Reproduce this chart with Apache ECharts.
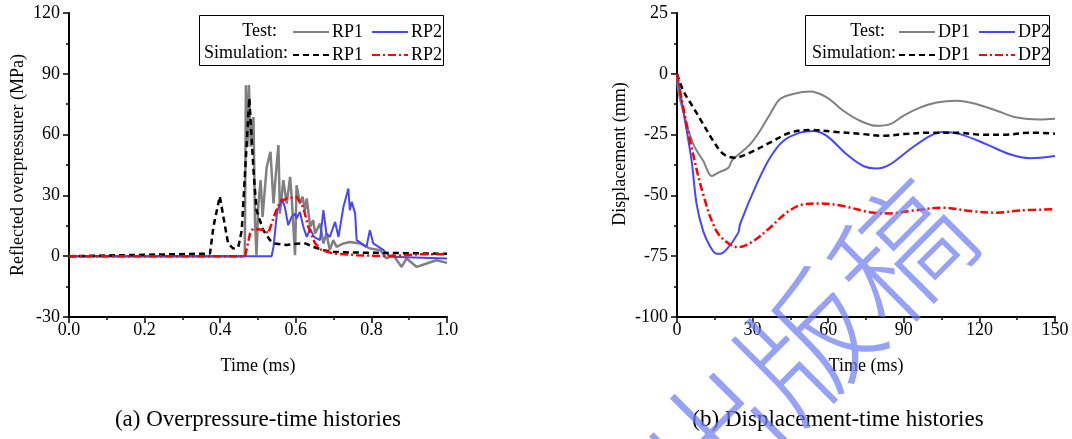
<!DOCTYPE html>
<html>
<head>
<meta charset="utf-8">
<script src="https://cdn.jsdelivr.net/npm/echarts@6/dist/echarts.min.js"></script>
<style>
  html, body { margin: 0; padding: 0; background: #fff; }
  #chart { width: 1072px; height: 439px; }
</style>
</head>
<body>
<div id="chart"></div>
<script>
// ---- (a) reflected overpressure, time in ms, pressure in MPa ----
const rp1TestTime = [0, 0.465, 0.468, 0.472, 0.476, 0.481, 0.488, 0.492, 0.496, 0.501, 0.507, 0.512, 0.523, 0.533, 0.541, 0.548, 0.554, 0.558, 0.567, 0.576, 0.585, 0.589, 0.598, 0.602, 0.611, 0.618, 0.624, 0.629, 0.638, 0.646, 0.651, 0.664, 0.673, 0.681, 0.690, 0.699, 0.708, 0.726, 0.743, 0.770, 0.796, 0.823, 0.840, 0.858, 0.880, 0.893, 0.920, 0.946, 0.972, 1.0];
const rp1TestP    = [0, 0, 84.4, 53.9, 84.4, 54, 68.7, 17.8, 0.5, 26, 37.5, 19.4, 44, 51.5, 26, 42.4, 54.8, 21, 37.5, 26, 39.1, 29.3, 0.5, 35, 26, 29.3, 22.7, 28.5, 14.5, 17.8, 11.2, 16.1, 6.3, 11.2, 3, 7.9, 4.6, 6.3, 7, 6.3, 3.8, 3, -1.1, 0.5, -5.3, -1.1, -5.3, -3.6, -2, -3.3];

const rp2TestTime = [0, 0.536, 0.541, 0.551, 0.558, 0.562, 0.571, 0.580, 0.589, 0.598, 0.602, 0.611, 0.620, 0.629, 0.638, 0.648, 0.664, 0.673, 0.681, 0.690, 0.704, 0.713, 0.726, 0.739, 0.743, 0.748, 0.757, 0.761, 0.787, 0.796, 0.805, 0.832, 0.849, 1.0];
const rp2TestP    = [0, 0, 4.6, 22.7, 25.2, 28.5, 24.3, 15.3, 19.4, 21, 18.6, 21.8, 14.5, 9.5, 13.6, 9.5, 7.9, 22.7, 11.2, 9.5, 16.9, 9.5, 24.3, 33.4, 22.7, 26.8, 21, 7.9, 4.6, 12.8, 6.3, 3, -0.3, -1.1];

const rp1SimTime = [0, 0.373, 0.382, 0.399, 0.413, 0.421, 0.434, 0.448, 0.457, 0.461, 0.477, 0.488, 0.496, 0.514, 0.532, 0.545, 0.575, 0.611, 0.625, 0.646, 0.673, 0.70, 0.75, 0.85, 1.0];
const rp1SimP    = [0, 1.3, 14.5, 29.6, 14.5, 6.3, 3.8, 4.6, 12.8, 26, 78, 42.4, 22.7, 12.8, 7.9, 6.3, 5.5, 6.3, 6.3, 4.6, 3, 2.1, 1.8, 1.6, 1.2];

const rp2SimTime = [0, 0.466, 0.479, 0.487, 0.519, 0.527, 0.545, 0.558, 0.576, 0.602, 0.62, 0.633, 0.651, 0.668, 0.70, 0.761, 0.84, 0.937, 1.0];
const rp2SimP    = [0, 0, 11.2, 13.6, 12.8, 11.2, 21, 26.8, 28.5, 29.3, 24, 14.5, 6.3, 3, 1.3, 0.5, 0, 1, 1];

// ---- (b) displacement, time in ms, displacement in mm ----
const dp1TestTime = [0, 0.5, 3.1, 6.5, 10.4, 13.8, 16.4, 20.4, 21.7, 23.7, 29, 32.9, 36.9, 40.9, 46.1, 52.8, 59.4, 66, 72.6, 79.3, 84.6, 89.8, 96.4, 103.1, 111, 119, 126.9, 134.9, 143.9, 150];
const dp1TestD    = [0, -7, -18, -29, -35.8, -42, -40.6, -38.6, -35.8, -33.8, -29, -23.5, -16.6, -10.4, -8.3, -7.3, -9.7, -15.2, -19.3, -21.4, -20.7, -17.3, -13.9, -11.8, -11.1, -12.5, -15.2, -18, -18.8, -18.5];

const dp2TestTime = [0, 3.2, 5.8, 7.8, 10.4, 13.1, 15.7, 17.1, 19.7, 24.3, 25, 31.6, 36.9, 42.2, 48.8, 54.1, 59.4, 67.3, 73.9, 79.3, 84.6, 92.5, 100.5, 105.6, 112.3, 122.9, 132.1, 140.1, 150];
const dp2TestD    = [0, -19.4, -35.8, -53.7, -64.7, -70.9, -74, -74, -72.2, -65.4, -61.9, -45.4, -34.5, -27.6, -24.2, -23.5, -25.5, -33.1, -37.9, -38.9, -37.2, -31, -25.5, -23.9, -24.8, -29, -33.1, -34.7, -33.8];

const dp1SimTime = [0, 2.5, 6.5, 10.4, 14.4, 18.4, 23, 29, 36.9, 44.8, 52.8, 63.4, 73.9, 81.9, 89.8, 100.4, 111, 121.6, 129.5, 140.1, 150];
const dp1SimD    = [0, -7, -13.9, -20.7, -27.6, -33, -34.5, -32.4, -28.3, -24.2, -23.1, -23.9, -24.8, -25.5, -24.8, -24.2, -24.2, -25.1, -25.1, -24.2, -24.6];

const dp2SimTime = [0, 2.5, 5.2, 10.4, 15.7, 21, 24.3, 30.3, 36.9, 43.5, 50.1, 56.8, 66, 76.5, 84.6, 92.5, 105.6, 116.3, 126.8, 136.1, 150];
const dp2SimD    = [0, -13.9, -27.6, -49.6, -64.7, -70.2, -71.3, -68.8, -63.3, -57.1, -53.7, -53.3, -54.4, -56.9, -57.4, -56.4, -55.1, -56.4, -57.1, -56.2, -55.7];

// axis ranges and tick steps
const pressureAxis = { min: -30, max: 120, step: 30 };
const timeAxisA = { min: 0, max: 1, step: 0.2 };
const dispAxis = { min: -100, max: 25, step: 25 };
const timeAxisB = { min: 0, max: 150, step: 30 };

const SERIF = 'Liberation Serif';
const GRAY = '#808080', BLUE = '#4646ff', BLACK = '#000000', RED = '#ff0000';
const DASH = [6, 4], DASHDOT = [8, 3, 2, 3];

function pairs(xs, ys) { return xs.map((x, i) => [x, ys[i]]); }

function axisCommon() {
  return {
    axisLine: { onZero: false, lineStyle: { color: '#000', width: 2 } },
    axisTick: { show: true, inside: false, length: 6, lineStyle: { color: '#000', width: 1.5 } },
    minorTick: { show: true, splitNumber: 2, length: 3, lineStyle: { color: '#000', width: 1.5 } },
    splitLine: { show: false },
    minorSplitLine: { show: false },
    nameTextStyle: { fontFamily: SERIF, fontSize: 18, color: '#000' }
  };
}

function xAxisDef(gridIndex, r, digits) {
  return Object.assign(axisCommon(), {
    type: 'value', gridIndex, min: r.min, max: r.max, interval: r.step,
    name: 'Time (ms)', nameLocation: 'middle', nameGap: 40,
    axisLabel: { fontFamily: SERIF, fontSize: 18, color: '#000', margin: 4,
      formatter: v => v.toFixed(digits) }
  });
}

function lineSeries(name, xi, data, color, width, dash, smooth) {
  return {
    name, type: 'line', xAxisIndex: xi, yAxisIndex: xi, data,
    symbol: 'none', smooth: smooth || false, animation: false,
    itemStyle: { color },
    lineStyle: { color, width, type: dash || 'solid' }
  };
}

// one legend row: line sample followed by the gauge name
function legendRow(names, left, top) {
  return {
    data: names, left, top, orient: 'horizontal', padding: 0,
    itemWidth: 36, itemHeight: 14, itemGap: 8, selectedMode: false,
    itemStyle: { opacity: 0 },
    formatter: n => n.split(' ')[1],
    textStyle: { fontFamily: SERIF, fontSize: 18, color: '#000', padding: [0, 0, 0, -2] }
  };
}

const chart = echarts.init(document.getElementById('chart'), null, { renderer: 'canvas' });

const option = {
  backgroundColor: '#fff',
  animation: false,
  grid: [
    { left: 69, top: 13, width: 378, height: 304 },
    { left: 677, top: 13, width: 378, height: 304 }
  ],
  xAxis: [
    xAxisDef(0, timeAxisA, 1),
    xAxisDef(1, timeAxisB, 0)
  ],
  yAxis: [
    Object.assign(axisCommon(), {
      type: 'value', gridIndex: 0, min: pressureAxis.min, max: pressureAxis.max, interval: pressureAxis.step,
      name: 'Reflected overpressurer (MPa)', nameLocation: 'middle', nameGap: 42,
      axisLabel: { fontFamily: SERIF, fontSize: 18, color: '#000', margin: 9 }
    }),
    Object.assign(axisCommon(), {
      type: 'value', gridIndex: 1, min: dispAxis.min, max: dispAxis.max, interval: dispAxis.step,
      name: 'Displacement (mm)', nameLocation: 'middle', nameGap: 48,
      nameTextStyle: { fontFamily: SERIF, fontSize: 18, color: '#000', padding: [0, 0, 0, 22] },
      axisLabel: { fontFamily: SERIF, fontSize: 18, color: '#000', margin: 9 }
    })
  ],
  legend: [
    legendRow(['Test RP1', 'Test RP2'], 292, 23),
    legendRow(['Sim RP1', 'Sim RP2'], 292, 46),
    legendRow(['Test DP1', 'Test DP2'], 898, 23),
    legendRow(['Sim DP1', 'Sim DP2'], 898, 46)
  ],
  series: [
    lineSeries('Test RP1', 0, pairs(rp1TestTime, rp1TestP), GRAY, 2.5),
    lineSeries('Test RP2', 0, pairs(rp2TestTime, rp2TestP), BLUE, 2),
    lineSeries('Sim RP1', 0, pairs(rp1SimTime, rp1SimP), BLACK, 2.5, DASH),
    lineSeries('Sim RP2', 0, pairs(rp2SimTime, rp2SimP), RED, 2.5, DASHDOT),
    lineSeries('Test DP1', 1, pairs(dp1TestTime, dp1TestD), GRAY, 2, null, 0.35),
    lineSeries('Test DP2', 1, pairs(dp2TestTime, dp2TestD), BLUE, 2, null, 0.35),
    lineSeries('Sim DP1', 1, pairs(dp1SimTime, dp1SimD), BLACK, 2.5, DASH, 0.35),
    lineSeries('Sim DP2', 1, pairs(dp2SimTime, dp2SimD), RED, 2.5, DASHDOT, 0.35)
  ],
  graphic: [
    // legend frames and row captions
    { type: 'rect', shape: { x: 199.5, y: 15.5, width: 244, height: 50 },
      style: { fill: 'none', stroke: '#000', lineWidth: 1 }, z: 5 },
    { type: 'text', x: 277, y: 31, style: { text: 'Test:', align: 'right', verticalAlign: 'middle',
      font: '18px "Liberation Serif"', fill: '#000' }, z: 5 },
    { type: 'text', x: 288, y: 53, style: { text: 'Simulation:', align: 'right', verticalAlign: 'middle',
      font: '18px "Liberation Serif"', fill: '#000' }, z: 5 },
    { type: 'rect', shape: { x: 805.5, y: 15.5, width: 244, height: 50 },
      style: { fill: 'none', stroke: '#000', lineWidth: 1 }, z: 5 },
    { type: 'text', x: 885, y: 31, style: { text: 'Test:', align: 'right', verticalAlign: 'middle',
      font: '18px "Liberation Serif"', fill: '#000' }, z: 5 },
    { type: 'text', x: 896, y: 53, style: { text: 'Simulation:', align: 'right', verticalAlign: 'middle',
      font: '18px "Liberation Serif"', fill: '#000' }, z: 5 },
    // panel captions
    { type: 'text', x: 258, y: 420, style: { text: '(a) Overpressure-time histories', align: 'center',
      verticalAlign: 'middle', font: '23px "Liberation Serif"', fill: '#000' } },
    { type: 'text', x: 838, y: 420, style: { text: '(b) Displacement-time histories', align: 'center',
      verticalAlign: 'middle', font: '23px "Liberation Serif"', fill: '#000' } },
    // stamp across panel (b)
    { type: 'text', x: 808, y: 345, rotation: Math.PI / 4, z: 100,
      style: { text: '出版稿', align: 'center', verticalAlign: 'middle',
        font: '300 132px "Noto Sans CJK SC"', fill: 'rgba(110,125,245,0.72)' } }
  ]
};

chart.setOption(option);
</script>
</body>
</html>
